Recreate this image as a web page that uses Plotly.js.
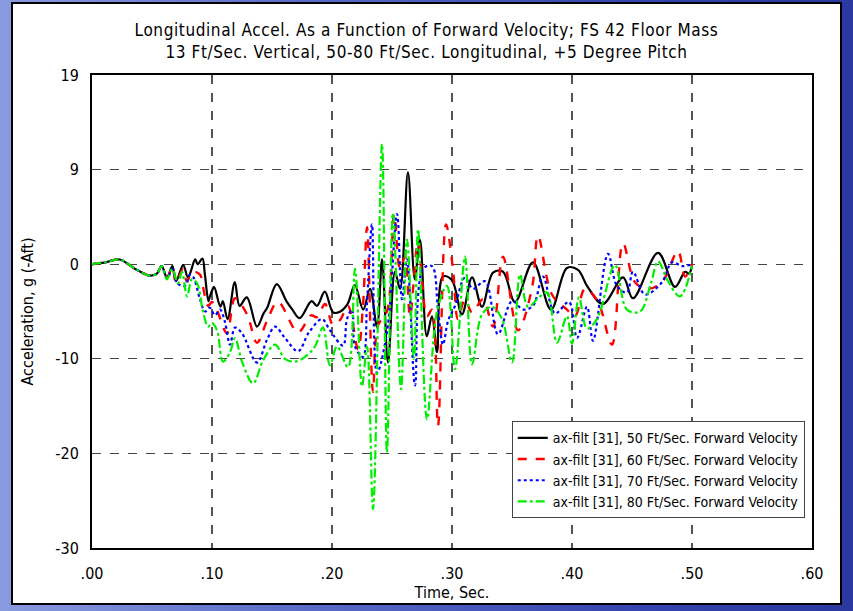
<!DOCTYPE html>
<html>
<head>
<meta charset="utf-8">
<script src="https://cdn.plot.ly/plotly-3.0.1.min.js"></script>
<style>
  html, body { margin: 0; padding: 0; width: 853px; height: 611px; overflow: hidden; }
  body { background: linear-gradient(90deg, #8a9ae0 0%, #5a6cc8 35%, #3444b0 75%, #2a38a0 100%); position: relative; }
  #frame { position: absolute; left: 11px; top: 2px; width: 827px; height: 599px; background: #ffffff; border: 2px solid #000; }
  #chart { position: absolute; left: 0; top: 0; width: 853px; height: 611px; }
  #chart .gtitle { letter-spacing: 0.6px; }
</style>
</head>
<body>
<div id="frame"></div>
<div id="chart"></div>
<script>
// ---- Data (time in seconds, acceleration in g) ----
const t50 = [0, 0.011, 0.023, 0.036, 0.048, 0.054, 0.058, 0.0625, 0.067, 0.070, 0.076, 0.080, 0.086, 0.088, 0.092, 0.094, 0.097, 0.098, 0.100, 0.1017, 0.107, 0.109, 0.113, 0.119, 0.123, 0.129, 0.1375, 0.143, 0.146, 0.154, 0.162, 0.167, 0.173, 0.183, 0.1875, 0.194, 0.201, 0.207, 0.213, 0.219, 0.226, 0.2317, 0.2375, 0.2417, 0.2467, 0.2525, 0.2567, 0.2633, 0.269, 0.2733, 0.279, 0.2833, 0.2875, 0.2925, 0.300, 0.3083, 0.3167, 0.325, 0.3342, 0.3425, 0.3525, 0.3675, 0.3825, 0.3958, 0.405, 0.413, 0.4258, 0.4425, 0.4508, 0.4717, 0.4858, 0.4942, 0.4975, 0.500];
const v50 = [0, 0.2, 0.5, -0.5, -1.2, -1.0, -0.2, -1.4, -0.2, -1.8, -0.1, -1.4, 0.5, 0.0, 0.6, -1.0, -3.9, -3.5, -2.8, -2.4, -4.5, -3.9, -5.8, -1.9, -4.4, -3.5, -6.6, -5.2, -4.6, -2.1, -3.9, -4.8, -5.7, -3.9, -4.4, -2.9, -5.1, -5.0, -4.2, -2.2, -4.8, -2.6, -6.6, 0.5, -10.4, -0.8, -2.6, 9.7, -1.6, 2.6, -7.6, -5.5, -9.3, -1.3, -1.7, -5.3, -1.4, -4.5, -0.9, -0.8, -4.0, 0.2, -4.8, -0.4, -0.6, -2.4, -4.2, -1.4, -3.6, 1.2, -2.4, -0.8, -1.0, -0.2];

const t60 = [0, 0.011, 0.023, 0.036, 0.048, 0.054, 0.058, 0.0625, 0.067, 0.070, 0.076, 0.079, 0.0842, 0.090, 0.0925, 0.0967, 0.100, 0.104, 0.1125, 0.1192, 0.1292, 0.1375, 0.1458, 0.155, 0.1717, 0.1825, 0.1875, 0.1942, 0.2008, 0.2067, 0.2133, 0.2217, 0.2258, 0.2292, 0.2342, 0.2383, 0.2458, 0.2517, 0.2567, 0.2608, 0.265, 0.2717, 0.2792, 0.2833, 0.2883, 0.295, 0.3008, 0.305, 0.3108, 0.3167, 0.3258, 0.3342, 0.3425, 0.355, 0.3667, 0.3717, 0.3833, 0.3958, 0.4025, 0.4108, 0.4217, 0.4333, 0.4425, 0.4525, 0.4633, 0.475, 0.4883, 0.4942, 0.500];
const v60 = [0, 0.2, 0.5, -0.5, -1.2, -1.0, -0.2, -1.4, -0.3, -1.9, -0.5, -1.8, -0.8, -1.1, -2.4, -4.4, -4.0, -4.8, -7.3, -3.6, -5.3, -8.3, -6.0, -4.0, -7.2, -5.4, -5.6, -4.2, -6.4, -5.9, -4.4, -9.0, -4.4, 3.9, -13.5, -6.5, -5.0, 5.3, -0.5, 0.8, -5.5, 2.3, -5.5, -4.8, -17.1, 4.2, -0.5, -5.8, -3.7, -5.1, -3.7, -6.6, 0.8, -7.0, -2.5, 3.0, -3.2, -4.8, -5.5, -2.6, -4.0, -8.5, 2.2, -1.9, -2.6, -1.9, 1.4, -1.3, 0.0];

const t70 = [0, 0.011, 0.023, 0.036, 0.048, 0.054, 0.058, 0.0625, 0.067, 0.071, 0.0775, 0.0817, 0.0842, 0.090, 0.0942, 0.0983, 0.1025, 0.1067, 0.1108, 0.115, 0.1192, 0.125, 0.1375, 0.1458, 0.1525, 0.1608, 0.1717, 0.1808, 0.1917, 0.1983, 0.2092, 0.2125, 0.2167, 0.2192, 0.2258, 0.2292, 0.2333, 0.2375, 0.2458, 0.2542, 0.2583, 0.2625, 0.2692, 0.2758, 0.2833, 0.2883, 0.2925, 0.2967, 0.3025, 0.3108, 0.3175, 0.3275, 0.3383, 0.350, 0.3592, 0.3675, 0.3758, 0.3858, 0.3975, 0.4042, 0.4125, 0.4175, 0.430, 0.4375, 0.4458, 0.4508, 0.4608, 0.475, 0.4833, 0.4917, 0.500];
const v70 = [0, 0.2, 0.5, -0.5, -1.2, -1.0, -0.2, -1.5, -0.5, -2.0, -2.3, -1.1, -1.3, -3.7, -5.0, -4.6, -5.4, -4.8, -6.1, -8.5, -6.7, -7.3, -10.4, -8.0, -6.6, -7.8, -9.2, -7.2, -5.8, -7.0, -8.6, -5.8, -4.8, -8.7, -9.8, -4.0, 4.2, -11.5, -7.2, 5.3, -3.7, 0.5, -12.8, -0.5, -0.2, -4.8, -8.5, -6.0, -4.4, -1.4, -2.6, -1.8, -7.4, -3.9, -4.8, -4.4, -1.3, -5.2, -4.0, -7.8, -4.5, -8.1, 1.1, -2.3, -3.0, -0.8, -3.2, -1.9, 0.2, -0.2, 0.0];

const t80 = [0, 0.011, 0.023, 0.036, 0.048, 0.054, 0.058, 0.0625, 0.0667, 0.0717, 0.075, 0.0792, 0.0833, 0.0875, 0.0925, 0.0967, 0.100, 0.1042, 0.1092, 0.115, 0.1192, 0.125, 0.1342, 0.1425, 0.1525, 0.1608, 0.1692, 0.1775, 0.1858, 0.1925, 0.1983, 0.2042, 0.2133, 0.2192, 0.225, 0.2292, 0.2342, 0.2417, 0.2458, 0.2508, 0.2575, 0.2625, 0.2683, 0.2717, 0.2792, 0.2875, 0.2958, 0.3025, 0.3108, 0.3167, 0.325, 0.3333, 0.3417, 0.350, 0.3567, 0.3633, 0.3725, 0.3792, 0.3875, 0.3958, 0.400, 0.4058, 0.4125, 0.4208, 0.4358, 0.4458, 0.4567, 0.4658, 0.4717, 0.480, 0.490, 0.500];
const v80 = [0, 0.2, 0.5, -0.5, -1.2, -1.0, -0.2, -1.6, -0.5, -2.0, -0.8, -3.4, -1.6, -2.0, -5.0, -6.6, -6.2, -7.0, -10.3, -9.3, -7.8, -10.3, -12.6, -10.2, -8.5, -10.0, -10.3, -9.8, -8.7, -6.7, -10.7, -8.7, -10.9, -0.5, -12.9, -8.7, -25.9, 12.7, -19.9, 5.4, -13.2, 2.6, -10.0, 3.7, -16.4, -5.0, -2.3, -11.1, 0.8, -10.6, -5.3, -4.5, -5.8, -10.4, -1.1, -4.5, -3.5, -3.0, -8.3, -5.5, -8.4, -3.5, -6.8, -5.8, -0.1, -4.8, -5.0, -2.0, 0.3, -1.8, -3.4, -0.2];

const seriesNames = [
  'ax-filt [31], 50 Ft/Sec. Forward Velocity',
  'ax-filt [31], 60 Ft/Sec. Forward Velocity',
  'ax-filt [31], 70 Ft/Sec. Forward Velocity',
  'ax-filt [31], 80 Ft/Sec. Forward Velocity'
];
const xTickVals = [0, 0.1, 0.2, 0.3, 0.4, 0.5, 0.6];
const xTickText = ['.00', '.10', '.20', '.30', '.40', '.50', '.60'];
const yTickVals = [20, 10, 0, -10, -20, -30];
const yTickText = ['19', '9', '0', '-10', '-20', '-30'];

const FONT = '"DejaVu Sans Condensed", "Liberation Sans", sans-serif';

const traces = [
  {x: t50, y: v50, name: seriesNames[0], line: {color: '#000000', width: 2.2, dash: 'solid', shape: 'spline', smoothing: 1}},
  {x: t60, y: v60, name: seriesNames[1], line: {color: '#ff0000', width: 2.4, dash: 'dash', shape: 'spline', smoothing: 1}},
  {x: t70, y: v70, name: seriesNames[2], line: {color: '#0000ff', width: 2.2, dash: 'dot', shape: 'spline', smoothing: 1}},
  {x: t80, y: v80, name: seriesNames[3], line: {color: '#00ee00', width: 2.2, dash: 'dashdot', shape: 'spline', smoothing: 1}}
].map(tr => Object.assign({type: 'scatter', mode: 'lines'}, tr));

const layout = {
  width: 853, height: 611,
  paper_bgcolor: 'rgba(0,0,0,0)',
  plot_bgcolor: '#ffffff',
  margin: {l: 92, r: 41, t: 75, b: 63},
  font: {family: FONT, size: 16, color: '#000'},
  title: {
    text: 'Longitudinal Accel. As a Function of Forward Velocity; FS 42 Floor Mass<br>13 Ft/Sec. Vertical, 50-80 Ft/Sec. Longitudinal, +5 Degree Pitch',
    font: {family: FONT, size: 17, color: '#000'},
    x: 0.5, xanchor: 'center', y: 0.9415, yanchor: 'middle'
  },
  xaxis: {
    range: [0, 0.6], tickvals: xTickVals, ticktext: xTickText,
    showgrid: true, gridcolor: '#555', griddash: 'dash', gridwidth: 1.2,
    zeroline: false, showline: true, linecolor: '#000', linewidth: 2, mirror: true,
    ticks: '', ticklabelstandoff: 10, tickfont: {family: FONT, size: 16},
    title: {text: 'Time, Sec.', font: {family: FONT, size: 16}, standoff: 4}
  },
  yaxis: {
    range: [-30, 20], tickvals: yTickVals, ticktext: yTickText,
    showgrid: true, gridcolor: '#444', griddash: 'dash', gridwidth: 1.2,
    zeroline: false, showline: true, linecolor: '#000', linewidth: 2, mirror: true,
    ticks: '', ticklabelstandoff: 8, tickfont: {family: FONT, size: 16},
    title: {text: 'Acceleration, g (-Aft)', font: {family: FONT, size: 16}, standoff: 18}
  },
  showlegend: true,
  legend: {
    x: 0.583, y: 0.268, xanchor: 'left', yanchor: 'top',
    bgcolor: '#ffffff', bordercolor: '#444', borderwidth: 1,
    font: {family: FONT, size: 14, color: '#000'},
    tracegroupgap: 0, itemwidth: 30
  }
};

Plotly.newPlot('chart', traces, layout, {displayModeBar: false, staticPlot: true});
</script>
</body>
</html>
